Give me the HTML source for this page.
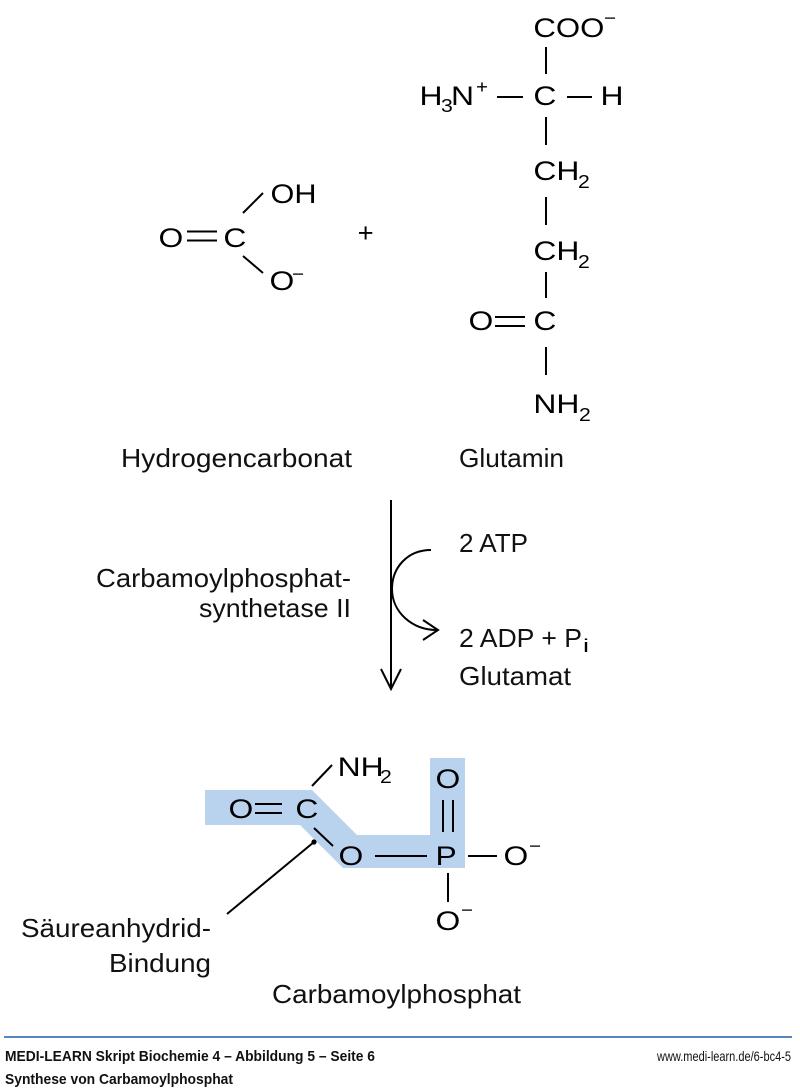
<!DOCTYPE html>
<html>
<head>
<meta charset="utf-8">
<style>
html,body{margin:0;padding:0;background:#fff;}
svg{display:block;}
.c{font-family:"Liberation Sans",Arial,sans-serif;font-size:27px;fill:#000;}
.s{font-family:"Liberation Sans",Arial,sans-serif;font-size:18px;fill:#000;}
.l{font-family:"Liberation Sans",Arial,sans-serif;font-size:26px;fill:#111;}
.f{font-family:"Liberation Sans",Arial,sans-serif;font-size:15px;font-weight:bold;fill:#111;}
.w{font-family:"Liberation Sans",Arial,sans-serif;font-size:14px;fill:#111;}
line,polyline,path{stroke:#000;stroke-width:2;fill:none;}
</style>
</head>
<body>
<svg width="800" height="1091" viewBox="0 0 800 1091" xmlns="http://www.w3.org/2000/svg">
<rect x="0" y="0" width="800" height="1091" fill="#fff"/>

<!-- Hydrogencarbonat -->
<text class="c" x="158.5" y="247" textLength="24.8" lengthAdjust="spacingAndGlyphs">O</text>
<line x1="187" y1="231.5" x2="217" y2="231.5"/>
<line x1="187" y1="240.5" x2="217" y2="240.5"/>
<text class="c" x="223.4" y="247" textLength="23" lengthAdjust="spacingAndGlyphs">C</text>
<line x1="243" y1="213" x2="263" y2="193"/>
<line x1="243" y1="256" x2="263" y2="273"/>
<text class="c" x="270.5" y="203" textLength="46" lengthAdjust="spacingAndGlyphs">OH</text>
<text class="c" x="269.5" y="290" textLength="24.8" lengthAdjust="spacingAndGlyphs">O</text>
<text class="s" x="292" y="280" textLength="12" lengthAdjust="spacingAndGlyphs">−</text>
<text class="c" x="357.6" y="242" font-size="28" textLength="16" lengthAdjust="spacingAndGlyphs">+</text>

<!-- Glutamin -->
<text class="c" x="533.4" y="37" textLength="71" lengthAdjust="spacingAndGlyphs">COO</text>
<text class="s" x="604" y="24" textLength="12" lengthAdjust="spacingAndGlyphs">−</text>
<line x1="546" y1="47" x2="546" y2="74"/>
<text class="c" x="419.5" y="105" textLength="23" lengthAdjust="spacingAndGlyphs">H</text>
<text class="s" x="441" y="112" textLength="11.8" lengthAdjust="spacingAndGlyphs">3</text>
<text class="c" x="451" y="105" textLength="23" lengthAdjust="spacingAndGlyphs">N</text>
<text class="s" x="476" y="93" textLength="12" lengthAdjust="spacingAndGlyphs">+</text>
<line x1="497" y1="97" x2="523" y2="97"/>
<text class="c" x="533.4" y="105" textLength="23" lengthAdjust="spacingAndGlyphs">C</text>
<line x1="567" y1="97" x2="592" y2="97"/>
<text class="c" x="600.5" y="105" textLength="23" lengthAdjust="spacingAndGlyphs">H</text>
<line x1="546" y1="117" x2="546" y2="145"/>
<text class="c" x="533.4" y="180" textLength="46" lengthAdjust="spacingAndGlyphs">CH</text>
<text class="s" x="578" y="188" textLength="11.8" lengthAdjust="spacingAndGlyphs">2</text>
<line x1="546" y1="197" x2="546" y2="225"/>
<text class="c" x="533.4" y="260" textLength="46" lengthAdjust="spacingAndGlyphs">CH</text>
<text class="s" x="578" y="268" textLength="11.8" lengthAdjust="spacingAndGlyphs">2</text>
<line x1="546" y1="272" x2="546" y2="298"/>
<text class="c" x="468.5" y="330" textLength="24.8" lengthAdjust="spacingAndGlyphs">O</text>
<line x1="495" y1="317" x2="525" y2="317"/>
<line x1="495" y1="326" x2="525" y2="326"/>
<text class="c" x="533.4" y="330" textLength="23" lengthAdjust="spacingAndGlyphs">C</text>
<line x1="546" y1="347" x2="546" y2="375"/>
<text class="c" x="533.4" y="413" textLength="46" lengthAdjust="spacingAndGlyphs">NH</text>
<text class="s" x="579" y="421" textLength="11.8" lengthAdjust="spacingAndGlyphs">2</text>

<!-- Labels -->
<text class="l" x="121" y="467" textLength="231" lengthAdjust="spacingAndGlyphs">Hydrogencarbonat</text>
<text class="l" x="459" y="467" textLength="105" lengthAdjust="spacingAndGlyphs">Glutamin</text>

<!-- Reaction arrow -->
<line x1="391" y1="500" x2="391" y2="689"/>
<polyline points="381,669 391,689 401,669"/>
<path d="M431,550 C407,550 392,568 392,589 C392,612 412,630 437,630"/>
<polyline points="423,620 438,630 423,640"/>

<text class="l" x="96" y="587" textLength="255" lengthAdjust="spacingAndGlyphs">Carbamoylphosphat-</text>
<text class="l" x="199" y="617" textLength="152" lengthAdjust="spacingAndGlyphs">synthetase II</text>
<text class="l" x="459" y="552" textLength="69" lengthAdjust="spacingAndGlyphs">2 ATP</text>
<text class="l" x="459" y="647" textLength="123" lengthAdjust="spacingAndGlyphs">2 ADP + P</text>
<text class="s" x="583" y="652" textLength="6" lengthAdjust="spacingAndGlyphs">i</text>
<text class="l" x="459" y="685" textLength="112" lengthAdjust="spacingAndGlyphs">Glutamat</text>

<!-- Carbamoylphosphat highlight -->
<polygon points="205,790 312,790 357,835 430,835 430,758 465,758 465,868 343,868 300,825 205,825" fill="#b9d3ef" stroke="none"/>

<text class="c" x="228.5" y="818" textLength="24.8" lengthAdjust="spacingAndGlyphs">O</text>
<line x1="255" y1="804" x2="282" y2="804"/>
<line x1="255" y1="813" x2="282" y2="813"/>
<text class="c" x="295.4" y="818" textLength="23" lengthAdjust="spacingAndGlyphs">C</text>
<line x1="312" y1="786" x2="332" y2="765"/>
<text class="c" x="337.6" y="776" textLength="46" lengthAdjust="spacingAndGlyphs">NH</text>
<text class="s" x="380" y="783" textLength="11.8" lengthAdjust="spacingAndGlyphs">2</text>
<line x1="314" y1="828" x2="333" y2="846"/>
<circle cx="314" cy="842" r="2.6" fill="#000"/>
<line x1="314" y1="842" x2="227" y2="914" style="stroke-width:2"/>
<text class="c" x="338.5" y="865" textLength="24.8" lengthAdjust="spacingAndGlyphs">O</text>
<line x1="375" y1="856" x2="427" y2="856"/>
<text class="c" x="435.5" y="865" textLength="21.2" lengthAdjust="spacingAndGlyphs">P</text>
<line x1="443" y1="800" x2="443" y2="832"/>
<line x1="453" y1="800" x2="453" y2="832"/>
<text class="c" x="435.5" y="788" textLength="24.8" lengthAdjust="spacingAndGlyphs">O</text>
<line x1="468" y1="856" x2="497" y2="856"/>
<text class="c" x="503.5" y="865" textLength="24.8" lengthAdjust="spacingAndGlyphs">O</text>
<text class="s" x="529" y="852" textLength="12" lengthAdjust="spacingAndGlyphs">−</text>
<line x1="448" y1="873" x2="448" y2="902"/>
<text class="c" x="435.5" y="930" textLength="24.8" lengthAdjust="spacingAndGlyphs">O</text>
<text class="s" x="461" y="916" textLength="12" lengthAdjust="spacingAndGlyphs">−</text>

<text class="l" x="21" y="937" textLength="190" lengthAdjust="spacingAndGlyphs">Säureanhydrid-</text>
<text class="l" x="109" y="972" textLength="102" lengthAdjust="spacingAndGlyphs">Bindung</text>
<text class="l" x="272" y="1003" textLength="249" lengthAdjust="spacingAndGlyphs">Carbamoylphosphat</text>

<!-- Footer -->
<line x1="4" y1="1037" x2="792" y2="1037" style="stroke:#1f5fae;stroke-width:1.5"/>
<text class="f" x="5" y="1061" textLength="370" lengthAdjust="spacingAndGlyphs">MEDI-LEARN Skript Biochemie 4 – Abbildung 5 – Seite 6</text>
<text class="w" x="657" y="1061" textLength="134" lengthAdjust="spacingAndGlyphs">www.medi-learn.de/6-bc4-5</text>
<text class="f" x="5" y="1084" textLength="228" lengthAdjust="spacingAndGlyphs">Synthese von Carbamoylphosphat</text>
</svg>
</body>
</html>
